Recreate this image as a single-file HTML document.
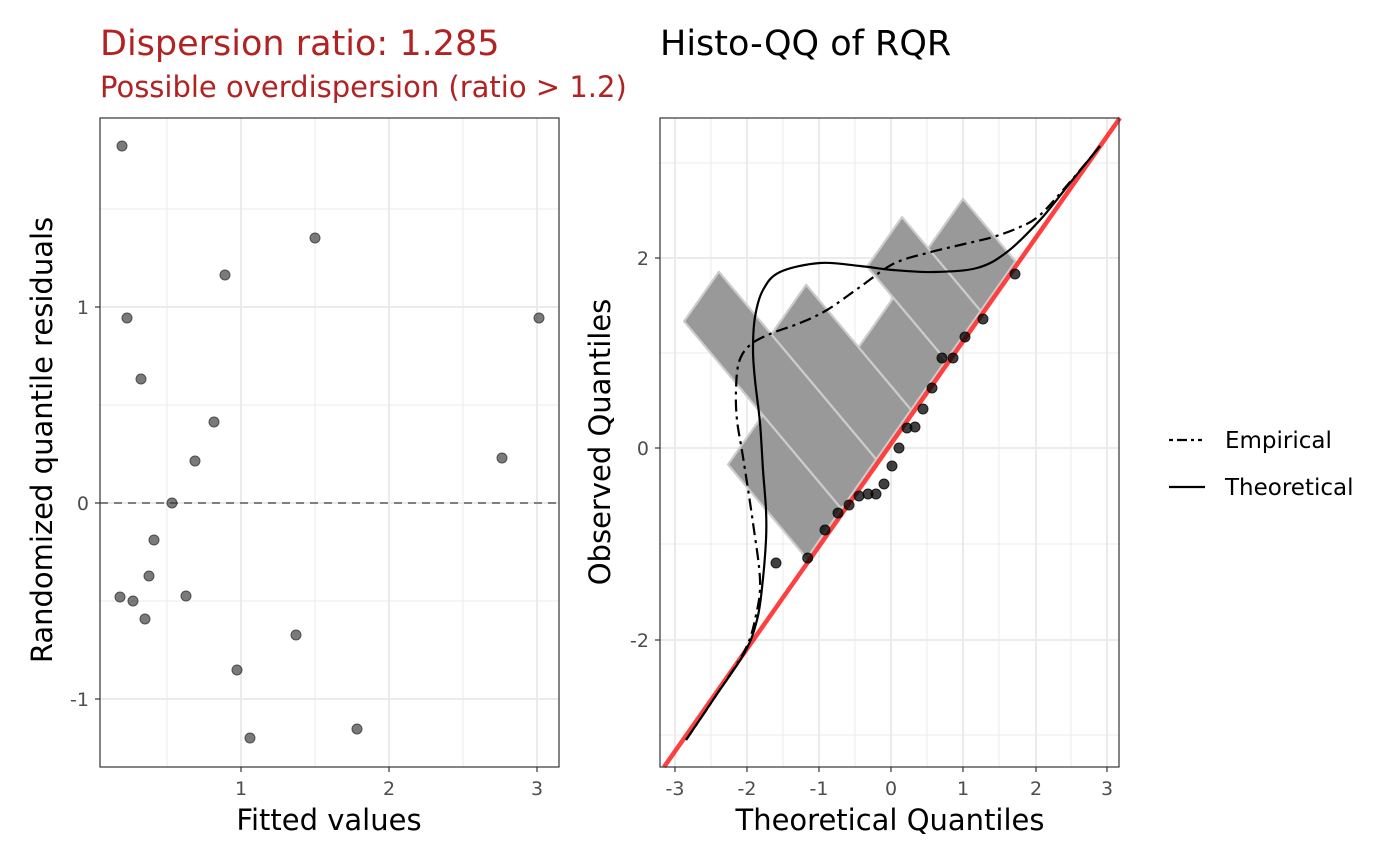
<!DOCTYPE html>
<html><head><meta charset="utf-8"><style>
html,body{margin:0;padding:0;background:#fff;}
svg{display:block;font-family:"DejaVu Sans","Liberation Sans",sans-serif;}
</style></head><body>
<svg id="s" width="1400" height="866" viewBox="0 0 1400 866" xmlns="http://www.w3.org/2000/svg">
<rect width="1400" height="866" fill="#fff"/>
<!-- LEFT PANEL -->
<g stroke="#ebebeb" stroke-width="1">
<line x1="167" y1="118" x2="167" y2="767"/><line x1="315" y1="118" x2="315" y2="767"/><line x1="463" y1="118" x2="463" y2="767"/>
<line x1="100" y1="209" x2="559" y2="209"/><line x1="100" y1="405" x2="559" y2="405"/><line x1="100" y1="601" x2="559" y2="601"/>
</g>
<g stroke="#ebebeb" stroke-width="2">
<line x1="241" y1="118" x2="241" y2="767"/><line x1="389" y1="118" x2="389" y2="767"/><line x1="537" y1="118" x2="537" y2="767"/>
<line x1="100" y1="307" x2="559" y2="307"/><line x1="100" y1="503" x2="559" y2="503"/><line x1="100" y1="699" x2="559" y2="699"/>
</g>
<line x1="100" y1="503" x2="559" y2="503" stroke="#808080" stroke-width="2" stroke-dasharray="8,6"/>
<g fill="#333" fill-opacity="0.65" stroke="#333" stroke-opacity="0.8" stroke-width="1">
<circle cx="122" cy="146" r="5"/><circle cx="127" cy="318" r="5"/><circle cx="141" cy="379" r="5"/><circle cx="225" cy="275" r="5"/><circle cx="315" cy="238" r="5"/><circle cx="214" cy="422" r="5"/><circle cx="195" cy="461" r="5"/><circle cx="172" cy="503" r="5"/><circle cx="154" cy="540" r="5"/><circle cx="149" cy="576" r="5"/><circle cx="120" cy="597" r="5"/><circle cx="133" cy="601" r="5"/><circle cx="145" cy="619" r="5"/><circle cx="186" cy="596" r="5"/><circle cx="296" cy="635" r="5"/><circle cx="237" cy="670" r="5"/><circle cx="250" cy="738" r="5"/><circle cx="357" cy="729" r="5"/><circle cx="502" cy="458" r="5"/><circle cx="539" cy="318" r="5"/>
</g>
<rect x="100" y="118" width="459" height="649" fill="none" stroke="#333" stroke-width="1.2"/>
<g stroke="#333" stroke-width="1.2">
<line x1="241" y1="767" x2="241" y2="772"/><line x1="389" y1="767" x2="389" y2="772"/><line x1="537" y1="767" x2="537" y2="772"/>
<line x1="95" y1="307" x2="100" y2="307"/><line x1="95" y1="503" x2="100" y2="503"/><line x1="95" y1="699" x2="100" y2="699"/>
</g>
<g fill="#4d4d4d" font-size="19">
<text x="241" y="795" text-anchor="middle">1</text><text x="389" y="795" text-anchor="middle">2</text><text x="537" y="795" text-anchor="middle">3</text>
<text x="89" y="314" text-anchor="end">1</text><text x="89" y="510" text-anchor="end">0</text><text x="89" y="706" text-anchor="end">-1</text>
</g>
<text x="329" y="830" font-size="29" text-anchor="middle">Fitted values</text>
<text transform="translate(52,440) rotate(-90)" font-size="29" text-anchor="middle">Randomized quantile residuals</text>
<text x="100" y="55" font-size="35" fill="#b22222">Dispersion ratio: 1.285</text>
<text x="100" y="97" font-size="29" fill="#b22222">Possible overdispersion (ratio &gt; 1.2)</text>
<!-- RIGHT PANEL -->
<g stroke="#ebebeb" stroke-width="1">
<line x1="711" y1="118" x2="711" y2="767"/><line x1="783" y1="118" x2="783" y2="767"/><line x1="855" y1="118" x2="855" y2="767"/><line x1="927" y1="118" x2="927" y2="767"/><line x1="999" y1="118" x2="999" y2="767"/><line x1="1071" y1="118" x2="1071" y2="767"/>
<line x1="660" y1="163" x2="1119" y2="163"/><line x1="660" y1="353" x2="1119" y2="353"/><line x1="660" y1="544" x2="1119" y2="544"/><line x1="660" y1="735" x2="1119" y2="735"/>
</g>
<g stroke="#ebebeb" stroke-width="2">
<line x1="675" y1="118" x2="675" y2="767"/><line x1="747" y1="118" x2="747" y2="767"/><line x1="819" y1="118" x2="819" y2="767"/><line x1="891" y1="118" x2="891" y2="767"/><line x1="963" y1="118" x2="963" y2="767"/><line x1="1036" y1="118" x2="1036" y2="767"/><line x1="1107" y1="118" x2="1107" y2="767"/>
<line x1="660" y1="258" x2="1119" y2="258"/><line x1="660" y1="448" x2="1119" y2="448"/><line x1="660" y1="640" x2="1119" y2="640"/>
</g>
<g id="bars" fill="#999" stroke="#ccc" stroke-width="2.2" stroke-linejoin="round"></g>
<line x1="664" y1="767" x2="1119.9" y2="118" stroke="#ff0000" stroke-opacity="0.75" stroke-width="4.5"/>
<path id="th" fill="none" stroke="#000" stroke-width="2.2"/>
<path id="em" fill="none" stroke="#000" stroke-width="2.2" stroke-dasharray="12,5,3,5"/>
<g fill="#000" fill-opacity="0.75" stroke="#000" stroke-opacity="0.8" stroke-width="1">
<circle cx="776" cy="563" r="5"/><circle cx="807.7" cy="558" r="5"/><circle cx="825" cy="530" r="5"/><circle cx="838" cy="513" r="5"/><circle cx="849" cy="505" r="5"/><circle cx="859" cy="496" r="5"/><circle cx="868" cy="494" r="5"/><circle cx="876" cy="494" r="5"/><circle cx="884" cy="484" r="5"/><circle cx="892" cy="466" r="5"/><circle cx="899" cy="448" r="5"/><circle cx="907" cy="428" r="5"/><circle cx="915" cy="427" r="5"/><circle cx="923" cy="409" r="5"/><circle cx="932" cy="388" r="5"/><circle cx="942" cy="358" r="5"/><circle cx="953" cy="358" r="5"/><circle cx="965" cy="337" r="5"/><circle cx="983" cy="319" r="5"/><circle cx="1015" cy="274" r="5"/>
</g>
<rect x="660" y="118" width="459" height="649" fill="none" stroke="#333" stroke-width="1.2"/>
<g stroke="#333" stroke-width="1.2">
<line x1="675" y1="767" x2="675" y2="772"/><line x1="747" y1="767" x2="747" y2="772"/><line x1="819" y1="767" x2="819" y2="772"/><line x1="891" y1="767" x2="891" y2="772"/><line x1="963" y1="767" x2="963" y2="772"/><line x1="1036" y1="767" x2="1036" y2="772"/><line x1="1107" y1="767" x2="1107" y2="772"/>
<line x1="655" y1="258" x2="660" y2="258"/><line x1="655" y1="448" x2="660" y2="448"/><line x1="655" y1="640" x2="660" y2="640"/>
</g>
<g fill="#4d4d4d" font-size="19" text-anchor="middle">
<text x="675" y="795">-3</text><text x="747" y="795">-2</text><text x="819" y="795">-1</text><text x="891" y="795">0</text><text x="963" y="795">1</text><text x="1036" y="795">2</text><text x="1107" y="795">3</text>
</g>
<g fill="#4d4d4d" font-size="19" text-anchor="end">
<text x="649" y="265">2</text><text x="649" y="455">0</text><text x="649" y="647">-2</text>
</g>
<text x="890" y="830" font-size="29" text-anchor="middle">Theoretical Quantiles</text>
<text transform="translate(610,442) rotate(-90)" font-size="29" text-anchor="middle">Observed Quantiles</text>
<text x="660" y="55" font-size="35">Histo-QQ of RQR</text>
<!-- legend -->
<line x1="1169" y1="440" x2="1205" y2="440" stroke="#000" stroke-width="2.2" stroke-dasharray="4,4,10,4,3,4"/>
<line x1="1169" y1="487" x2="1205" y2="487" stroke="#000" stroke-width="2.2"/>
<text x="1225" y="448" font-size="23">Empirical</text>
<text x="1225" y="495" font-size="23">Theoretical</text>
</svg>
<script>
(function(){
var g=document.getElementById('bars');
var start=[806.7,558.3];
var u=[0.5752,-0.8180], w=60.5;
var d=[0.643,0.766], unit=40.8;
var counts=[3,6,4,2,3,2];
for(var i=0;i<counts.length;i++){
 var b0=[start[0]+u[0]*w*i,start[1]+u[1]*w*i];
 var b1=[start[0]+u[0]*w*(i+1),start[1]+u[1]*w*(i+1)];
 var h=counts[i]*unit;
 var t1=[b1[0]-d[0]*h,b1[1]-d[1]*h], t0=[b0[0]-d[0]*h,b0[1]-d[1]*h];
 var poly=document.createElementNS('http://www.w3.org/2000/svg','polygon');
 poly.setAttribute('points',[b0,t0,t1,b1].map(function(p){return p[0].toFixed(1)+','+p[1].toFixed(1);}).join(' '));
 g.appendChild(poly);
}
function smooth(pts){
 var s='M'+pts[0][0]+','+pts[0][1];
 for(var i=0;i<pts.length-1;i++){
  var p0=pts[Math.max(0,i-1)],p1=pts[i],p2=pts[i+1],p3=pts[Math.min(pts.length-1,i+2)];
  var c1=[p1[0]+(p2[0]-p0[0])/6,p1[1]+(p2[1]-p0[1])/6],c2=[p2[0]-(p3[0]-p1[0])/6,p2[1]-(p3[1]-p1[1])/6];
  s+=' C'+c1.join(',')+' '+c2.join(',')+' '+p2.join(',');
 }
 return s;
}
var th=[[686,740],[715,697],[745,652],[757,620],[762,588],[766,540],[766,510],[763,470],[760,423],[755,380],[753,350],[755,317],[763,290],[780,272],[820,263],[860,266],[893,270],[933,272],[977,268],[1007,252],[1040,220],[1070,183],[1100,146]];
var em=[[686,740],[715,697],[745,650],[756,615],[760,580],[753,523],[743,457],[737,420],[736,390],[739,362],[750,345],[770,334],[800,323],[827,310],[860,287],[893,264],[927,253],[960,245],[993,237],[1020,227],[1040,215],[1070,182],[1100,146]];
document.getElementById('th').setAttribute('d',smooth(th));
document.getElementById('em').setAttribute('d',smooth(em));
})();
</script>
</body></html>
